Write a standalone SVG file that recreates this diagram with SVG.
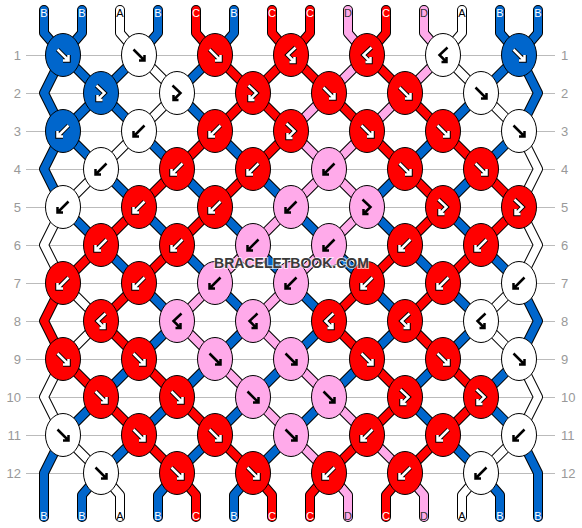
<svg xmlns="http://www.w3.org/2000/svg" xmlns:xlink="http://www.w3.org/1999/xlink" width="582" height="528" viewBox="0 0 582 528">
<style>
.grid{stroke:#bbb;stroke-width:1}
.num{font-family:"Liberation Sans",Arial,sans-serif;font-size:13px;fill:#999}
.o{fill:none;stroke:#000;stroke-width:10;stroke-linejoin:round;stroke-linecap:round}
.c{fill:none;stroke-width:8;stroke-linejoin:round;stroke-linecap:round}
.sB{stroke:#0066cc}.sA{stroke:#fff}.sC{stroke:#ff0000}.sD{stroke:#ffaaea}
ellipse{stroke:#000;stroke-width:1}
.kB{fill:#0066cc}.kA{fill:#fff}.kC{fill:#ff0000}.kD{fill:#ffaaea}
.ao{fill:none;stroke:#000;stroke-width:4.5;stroke-linejoin:miter}
.aw{fill:none;stroke:#fff;stroke-width:2.5;stroke-linejoin:miter}
.ak{fill:none;stroke:#000;stroke-width:2.5;stroke-linejoin:miter}
.lbl{font-family:"Liberation Sans",Arial,sans-serif;font-size:11px;text-anchor:middle}
.tw{fill:#fff}.tk{fill:#000}.td{fill:#333}
.wm{font-family:"Liberation Sans",Arial,sans-serif;font-size:14px;font-weight:bold;text-anchor:middle;fill:#3a3a3a;stroke:#fff;stroke-opacity:0.7;stroke-width:2;paint-order:stroke}
</style>
<defs>
<path id="pf" d="M-5.5,-5.5 L5.5,5.5 M5.5,0 L5.5,5.5 L0,5.5"/>
<path id="pb" d="M5.5,-5.5 L-5.5,5.5 M-5.5,0 L-5.5,5.5 L0,5.5"/>
<path id="pfb" d="M-4.5,-7.5 L3.5,0 L-3.5,7 M-3.5,2 L-3.5,7 L1.5,7"/>
<path id="pbf" d="M4.5,-7.5 L-3.5,0 L3.5,7 M3.5,2 L3.5,7 L-1.5,7"/>
<g id="fW"><use xlink:href="#pf" class="ao"/><use xlink:href="#pf" class="aw"/></g>
<g id="bW"><use xlink:href="#pb" class="ao"/><use xlink:href="#pb" class="aw"/></g>
<g id="fbW"><use xlink:href="#pfb" class="ao"/><use xlink:href="#pfb" class="aw"/></g>
<g id="bfW"><use xlink:href="#pbf" class="ao"/><use xlink:href="#pbf" class="aw"/></g>
<use id="fK" xlink:href="#pf" class="ak"/>
<use id="bK" xlink:href="#pb" class="ak"/>
<use id="fbK" xlink:href="#pfb" class="ak"/>
<use id="bfK" xlink:href="#pbf" class="ak"/>
<polyline id="p0" points="44,10 44,33 63,55 101,93 63,131 44,169 63,207 101,245 139,283 177,321 139,359 101,397 63,435 44,473 44,517"/>
<polyline id="p1" points="82,10 82,33 63,55 44,93 63,131 101,169 139,207 177,245 215,283 253,321 215,359 177,397 139,435 101,473 82,495 82,517"/>
<polyline id="p2" points="120,10 120,33 139,55 177,93 139,131 101,169 63,207 44,245 63,283 101,321 63,359 44,397 63,435 101,473 120,495 120,517"/>
<polyline id="p3" points="158,10 158,33 139,55 101,93 139,131 177,169 215,207 253,245 291,283 329,321 291,359 253,397 215,435 177,473 158,495 158,517"/>
<polyline id="p4" points="196,10 196,33 215,55 253,93 215,131 177,169 139,207 101,245 63,283 44,321 63,359 101,397 139,435 177,473 196,495 196,517"/>
<polyline id="p5" points="234,10 234,33 215,55 177,93 215,131 253,169 291,207 329,245 367,283 405,321 367,359 329,397 291,435 253,473 234,495 234,517"/>
<polyline id="p6" points="272,10 272,33 291,55 253,93 291,131 253,169 215,207 177,245 139,283 101,321 139,359 177,397 215,435 253,473 272,495 272,517"/>
<polyline id="p7" points="310,10 310,33 291,55 329,93 367,131 405,169 443,207 405,245 367,283 329,321 367,359 405,397 367,435 329,473 310,495 310,517"/>
<polyline id="p8" points="348,10 348,33 367,55 329,93 291,131 329,169 367,207 329,245 291,283 253,321 291,359 329,397 367,435 405,473 424,495 424,517"/>
<polyline id="p9" points="386,10 386,33 367,55 405,93 443,131 481,169 519,207 481,245 443,283 405,321 443,359 481,397 443,435 405,473 386,495 386,517"/>
<polyline id="p10" points="424,10 424,33 443,55 405,93 367,131 329,169 291,207 253,245 215,283 177,321 215,359 253,397 291,435 329,473 348,495 348,517"/>
<polyline id="p11" points="462,10 462,33 443,55 481,93 519,131 538,169 519,207 538,245 519,283 481,321 519,359 538,397 519,435 481,473 462,495 462,517"/>
<polyline id="p12" points="500,10 500,33 519,55 538,93 519,131 481,169 443,207 481,245 519,283 538,321 519,359 481,397 519,435 538,473 538,517"/>
<polyline id="p13" points="538,10 538,33 519,55 481,93 443,131 405,169 367,207 405,245 443,283 481,321 443,359 405,397 443,435 481,473 500,495 500,517"/>
</defs>
<rect width="582" height="528" fill="#fff"/>
<g id="grid">
<g class="grid">
<line x1="26" y1="55.5" x2="555" y2="55.5"/><line x1="26" y1="93.5" x2="555" y2="93.5"/><line x1="26" y1="131.5" x2="555" y2="131.5"/><line x1="26" y1="169.5" x2="555" y2="169.5"/><line x1="26" y1="207.5" x2="555" y2="207.5"/><line x1="26" y1="245.5" x2="555" y2="245.5"/><line x1="26" y1="283.5" x2="555" y2="283.5"/><line x1="26" y1="321.5" x2="555" y2="321.5"/><line x1="26" y1="359.5" x2="555" y2="359.5"/><line x1="26" y1="397.5" x2="555" y2="397.5"/><line x1="26" y1="435.5" x2="555" y2="435.5"/><line x1="26" y1="473.5" x2="555" y2="473.5"/>
</g>
<g class="num" text-anchor="end">
<text x="21" y="60">1</text><text x="21" y="98">2</text><text x="21" y="136">3</text><text x="21" y="174">4</text><text x="21" y="212">5</text><text x="21" y="250">6</text><text x="21" y="288">7</text><text x="21" y="326">8</text><text x="21" y="364">9</text><text x="21" y="402">10</text><text x="21" y="440">11</text><text x="21" y="478">12</text>
</g>
<g class="num">
<text x="561" y="60">1</text><text x="561" y="98">2</text><text x="561" y="136">3</text><text x="561" y="174">4</text><text x="561" y="212">5</text><text x="561" y="250">6</text><text x="561" y="288">7</text><text x="561" y="326">8</text><text x="561" y="364">9</text><text x="561" y="402">10</text><text x="561" y="440">11</text><text x="561" y="478">12</text>
</g>
</g>
<g id="connectors">
<use xlink:href="#p0" class="o"/><use xlink:href="#p0" class="c sB"/>
<use xlink:href="#p1" class="o"/><use xlink:href="#p1" class="c sB"/>
<use xlink:href="#p2" class="o"/><use xlink:href="#p2" class="c sA"/>
<use xlink:href="#p3" class="o"/><use xlink:href="#p3" class="c sB"/>
<use xlink:href="#p4" class="o"/><use xlink:href="#p4" class="c sC"/>
<use xlink:href="#p5" class="o"/><use xlink:href="#p5" class="c sB"/>
<use xlink:href="#p6" class="o"/><use xlink:href="#p6" class="c sC"/>
<use xlink:href="#p7" class="o"/><use xlink:href="#p7" class="c sC"/>
<use xlink:href="#p8" class="o"/><use xlink:href="#p8" class="c sD"/>
<use xlink:href="#p9" class="o"/><use xlink:href="#p9" class="c sC"/>
<use xlink:href="#p10" class="o"/><use xlink:href="#p10" class="c sD"/>
<use xlink:href="#p11" class="o"/><use xlink:href="#p11" class="c sA"/>
<use xlink:href="#p12" class="o"/><use xlink:href="#p12" class="c sB"/>
<use xlink:href="#p13" class="o"/><use xlink:href="#p13" class="c sB"/>
</g>
<g id="knots">
<g id="k1-1" transform="translate(63,55)"><ellipse class="kB" rx="17.5" ry="21.5"/><use xlink:href="#fW"/></g>
<g id="k1-2" transform="translate(139,55)"><ellipse class="kA" rx="17.5" ry="21.5"/><use xlink:href="#fK"/></g>
<g id="k1-3" transform="translate(215,55)"><ellipse class="kC" rx="17.5" ry="21.5"/><use xlink:href="#fW"/></g>
<g id="k1-4" transform="translate(291,55)"><ellipse class="kC" rx="17.5" ry="21.5"/><use xlink:href="#bfW"/></g>
<g id="k1-5" transform="translate(367,55)"><ellipse class="kC" rx="17.5" ry="21.5"/><use xlink:href="#bfW"/></g>
<g id="k1-6" transform="translate(443,55)"><ellipse class="kA" rx="17.5" ry="21.5"/><use xlink:href="#bfK"/></g>
<g id="k1-7" transform="translate(519,55)"><ellipse class="kB" rx="17.5" ry="21.5"/><use xlink:href="#fW"/></g>

<g id="k2-1" transform="translate(101,93)"><ellipse class="kB" rx="17.5" ry="21.5"/><use xlink:href="#fbW"/></g>
<g id="k2-2" transform="translate(177,93)"><ellipse class="kA" rx="17.5" ry="21.5"/><use xlink:href="#fbK"/></g>
<g id="k2-3" transform="translate(253,93)"><ellipse class="kC" rx="17.5" ry="21.5"/><use xlink:href="#fbW"/></g>
<g id="k2-4" transform="translate(329,93)"><ellipse class="kC" rx="17.5" ry="21.5"/><use xlink:href="#fW"/></g>
<g id="k2-5" transform="translate(405,93)"><ellipse class="kC" rx="17.5" ry="21.5"/><use xlink:href="#fW"/></g>
<g id="k2-6" transform="translate(481,93)"><ellipse class="kA" rx="17.5" ry="21.5"/><use xlink:href="#fK"/></g>

<g id="k3-1" transform="translate(63,131)"><ellipse class="kB" rx="17.5" ry="21.5"/><use xlink:href="#bW"/></g>
<g id="k3-2" transform="translate(139,131)"><ellipse class="kA" rx="17.5" ry="21.5"/><use xlink:href="#bK"/></g>
<g id="k3-3" transform="translate(215,131)"><ellipse class="kC" rx="17.5" ry="21.5"/><use xlink:href="#bW"/></g>
<g id="k3-4" transform="translate(291,131)"><ellipse class="kC" rx="17.5" ry="21.5"/><use xlink:href="#fbW"/></g>
<g id="k3-5" transform="translate(367,131)"><ellipse class="kC" rx="17.5" ry="21.5"/><use xlink:href="#fW"/></g>
<g id="k3-6" transform="translate(443,131)"><ellipse class="kC" rx="17.5" ry="21.5"/><use xlink:href="#fW"/></g>
<g id="k3-7" transform="translate(519,131)"><ellipse class="kA" rx="17.5" ry="21.5"/><use xlink:href="#fK"/></g>

<g id="k4-1" transform="translate(101,169)"><ellipse class="kA" rx="17.5" ry="21.5"/><use xlink:href="#bK"/></g>
<g id="k4-2" transform="translate(177,169)"><ellipse class="kC" rx="17.5" ry="21.5"/><use xlink:href="#bW"/></g>
<g id="k4-3" transform="translate(253,169)"><ellipse class="kC" rx="17.5" ry="21.5"/><use xlink:href="#bW"/></g>
<g id="k4-4" transform="translate(329,169)"><ellipse class="kD" rx="17.5" ry="21.5"/><use xlink:href="#bK"/></g>
<g id="k4-5" transform="translate(405,169)"><ellipse class="kC" rx="17.5" ry="21.5"/><use xlink:href="#fW"/></g>
<g id="k4-6" transform="translate(481,169)"><ellipse class="kC" rx="17.5" ry="21.5"/><use xlink:href="#fW"/></g>

<g id="k5-1" transform="translate(63,207)"><ellipse class="kA" rx="17.5" ry="21.5"/><use xlink:href="#bK"/></g>
<g id="k5-2" transform="translate(139,207)"><ellipse class="kC" rx="17.5" ry="21.5"/><use xlink:href="#bW"/></g>
<g id="k5-3" transform="translate(215,207)"><ellipse class="kC" rx="17.5" ry="21.5"/><use xlink:href="#bW"/></g>
<g id="k5-4" transform="translate(291,207)"><ellipse class="kD" rx="17.5" ry="21.5"/><use xlink:href="#bK"/></g>
<g id="k5-5" transform="translate(367,207)"><ellipse class="kD" rx="17.5" ry="21.5"/><use xlink:href="#fbK"/></g>
<g id="k5-6" transform="translate(443,207)"><ellipse class="kC" rx="17.5" ry="21.5"/><use xlink:href="#fbW"/></g>
<g id="k5-7" transform="translate(519,207)"><ellipse class="kC" rx="17.5" ry="21.5"/><use xlink:href="#fbW"/></g>

<g id="k6-1" transform="translate(101,245)"><ellipse class="kC" rx="17.5" ry="21.5"/><use xlink:href="#bW"/></g>
<g id="k6-2" transform="translate(177,245)"><ellipse class="kC" rx="17.5" ry="21.5"/><use xlink:href="#bW"/></g>
<g id="k6-3" transform="translate(253,245)"><ellipse class="kD" rx="17.5" ry="21.5"/><use xlink:href="#bK"/></g>
<g id="k6-4" transform="translate(329,245)"><ellipse class="kD" rx="17.5" ry="21.5"/><use xlink:href="#bK"/></g>
<g id="k6-5" transform="translate(405,245)"><ellipse class="kC" rx="17.5" ry="21.5"/><use xlink:href="#bW"/></g>
<g id="k6-6" transform="translate(481,245)"><ellipse class="kC" rx="17.5" ry="21.5"/><use xlink:href="#bW"/></g>

<g id="k7-1" transform="translate(63,283)"><ellipse class="kC" rx="17.5" ry="21.5"/><use xlink:href="#bW"/></g>
<g id="k7-2" transform="translate(139,283)"><ellipse class="kC" rx="17.5" ry="21.5"/><use xlink:href="#bW"/></g>
<g id="k7-3" transform="translate(215,283)"><ellipse class="kD" rx="17.5" ry="21.5"/><use xlink:href="#bK"/></g>
<g id="k7-4" transform="translate(291,283)"><ellipse class="kD" rx="17.5" ry="21.5"/><use xlink:href="#bK"/></g>
<g id="k7-5" transform="translate(367,283)"><ellipse class="kC" rx="17.5" ry="21.5"/><use xlink:href="#bW"/></g>
<g id="k7-6" transform="translate(443,283)"><ellipse class="kC" rx="17.5" ry="21.5"/><use xlink:href="#bW"/></g>
<g id="k7-7" transform="translate(519,283)"><ellipse class="kA" rx="17.5" ry="21.5"/><use xlink:href="#bK"/></g>

<g id="k8-1" transform="translate(101,321)"><ellipse class="kC" rx="17.5" ry="21.5"/><use xlink:href="#bfW"/></g>
<g id="k8-2" transform="translate(177,321)"><ellipse class="kD" rx="17.5" ry="21.5"/><use xlink:href="#bfK"/></g>
<g id="k8-3" transform="translate(253,321)"><ellipse class="kD" rx="17.5" ry="21.5"/><use xlink:href="#bfK"/></g>
<g id="k8-4" transform="translate(329,321)"><ellipse class="kC" rx="17.5" ry="21.5"/><use xlink:href="#bfW"/></g>
<g id="k8-5" transform="translate(405,321)"><ellipse class="kC" rx="17.5" ry="21.5"/><use xlink:href="#bfW"/></g>
<g id="k8-6" transform="translate(481,321)"><ellipse class="kA" rx="17.5" ry="21.5"/><use xlink:href="#bfK"/></g>

<g id="k9-1" transform="translate(63,359)"><ellipse class="kC" rx="17.5" ry="21.5"/><use xlink:href="#fW"/></g>
<g id="k9-2" transform="translate(139,359)"><ellipse class="kC" rx="17.5" ry="21.5"/><use xlink:href="#fW"/></g>
<g id="k9-3" transform="translate(215,359)"><ellipse class="kD" rx="17.5" ry="21.5"/><use xlink:href="#fK"/></g>
<g id="k9-4" transform="translate(291,359)"><ellipse class="kD" rx="17.5" ry="21.5"/><use xlink:href="#fK"/></g>
<g id="k9-5" transform="translate(367,359)"><ellipse class="kC" rx="17.5" ry="21.5"/><use xlink:href="#fW"/></g>
<g id="k9-6" transform="translate(443,359)"><ellipse class="kC" rx="17.5" ry="21.5"/><use xlink:href="#fW"/></g>
<g id="k9-7" transform="translate(519,359)"><ellipse class="kA" rx="17.5" ry="21.5"/><use xlink:href="#fK"/></g>

<g id="k10-1" transform="translate(101,397)"><ellipse class="kC" rx="17.5" ry="21.5"/><use xlink:href="#fW"/></g>
<g id="k10-2" transform="translate(177,397)"><ellipse class="kC" rx="17.5" ry="21.5"/><use xlink:href="#fW"/></g>
<g id="k10-3" transform="translate(253,397)"><ellipse class="kD" rx="17.5" ry="21.5"/><use xlink:href="#fK"/></g>
<g id="k10-4" transform="translate(329,397)"><ellipse class="kD" rx="17.5" ry="21.5"/><use xlink:href="#fK"/></g>
<g id="k10-5" transform="translate(405,397)"><ellipse class="kC" rx="17.5" ry="21.5"/><use xlink:href="#fbW"/></g>
<g id="k10-6" transform="translate(481,397)"><ellipse class="kC" rx="17.5" ry="21.5"/><use xlink:href="#fbW"/></g>

<g id="k11-1" transform="translate(63,435)"><ellipse class="kA" rx="17.5" ry="21.5"/><use xlink:href="#fK"/></g>
<g id="k11-2" transform="translate(139,435)"><ellipse class="kC" rx="17.5" ry="21.5"/><use xlink:href="#fW"/></g>
<g id="k11-3" transform="translate(215,435)"><ellipse class="kC" rx="17.5" ry="21.5"/><use xlink:href="#fW"/></g>
<g id="k11-4" transform="translate(291,435)"><ellipse class="kD" rx="17.5" ry="21.5"/><use xlink:href="#fK"/></g>
<g id="k11-5" transform="translate(367,435)"><ellipse class="kC" rx="17.5" ry="21.5"/><use xlink:href="#bW"/></g>
<g id="k11-6" transform="translate(443,435)"><ellipse class="kC" rx="17.5" ry="21.5"/><use xlink:href="#bW"/></g>
<g id="k11-7" transform="translate(519,435)"><ellipse class="kA" rx="17.5" ry="21.5"/><use xlink:href="#bK"/></g>

<g id="k12-1" transform="translate(101,473)"><ellipse class="kA" rx="17.5" ry="21.5"/><use xlink:href="#fK"/></g>
<g id="k12-2" transform="translate(177,473)"><ellipse class="kC" rx="17.5" ry="21.5"/><use xlink:href="#fW"/></g>
<g id="k12-3" transform="translate(253,473)"><ellipse class="kC" rx="17.5" ry="21.5"/><use xlink:href="#fW"/></g>
<g id="k12-4" transform="translate(329,473)"><ellipse class="kC" rx="17.5" ry="21.5"/><use xlink:href="#bW"/></g>
<g id="k12-5" transform="translate(405,473)"><ellipse class="kC" rx="17.5" ry="21.5"/><use xlink:href="#bW"/></g>
<g id="k12-6" transform="translate(481,473)"><ellipse class="kA" rx="17.5" ry="21.5"/><use xlink:href="#bK"/></g>
</g>
<g id="labels" class="lbl">
<text x="44" y="17" class="tw">B</text><text x="82" y="17" class="tw">B</text><text x="120" y="17" class="tk">A</text><text x="158" y="17" class="tw">B</text><text x="196" y="17" class="tw">C</text><text x="234" y="17" class="tw">B</text><text x="272" y="17" class="tw">C</text><text x="310" y="17" class="tw">C</text><text x="348" y="17" class="td">D</text><text x="386" y="17" class="tw">C</text><text x="424" y="17" class="td">D</text><text x="462" y="17" class="tk">A</text><text x="500" y="17" class="tw">B</text><text x="538" y="17" class="tw">B</text>
<text x="44" y="520" class="tw">B</text><text x="82" y="520" class="tw">B</text><text x="120" y="520" class="tk">A</text><text x="158" y="520" class="tw">B</text><text x="196" y="520" class="tw">C</text><text x="234" y="520" class="tw">B</text><text x="272" y="520" class="tw">C</text><text x="310" y="520" class="tw">C</text><text x="348" y="520" class="td">D</text><text x="386" y="520" class="tw">C</text><text x="424" y="520" class="td">D</text><text x="462" y="520" class="tk">A</text><text x="500" y="520" class="tw">B</text><text x="538" y="520" class="tw">B</text>
</g>
<text id="watermark" class="wm" x="291.5" y="268">BRACELETBOOK.COM</text>
</svg>
